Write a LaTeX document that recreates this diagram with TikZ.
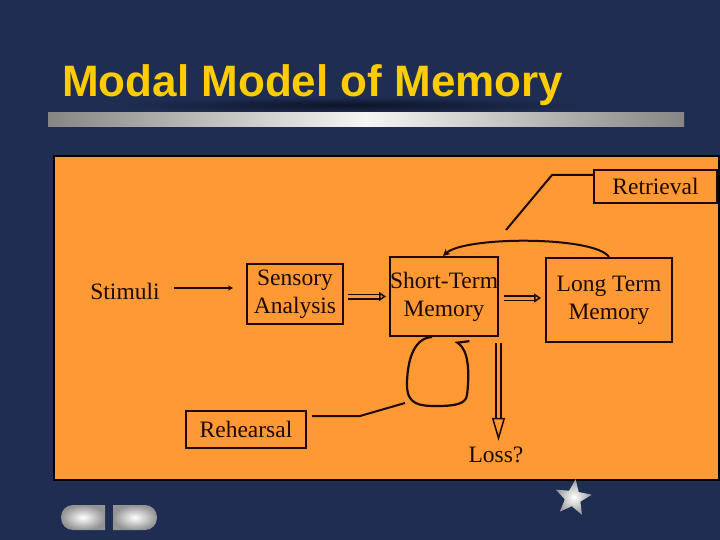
\documentclass[tikz,border=0pt]{standalone}
\usepackage{fontspec}
\setmainfont{Liberation Serif}
\newfontfamily\titlefont{Liberation Sans}
\usetikzlibrary{arrows.meta,shapes.geometric,calc}
\definecolor{navy}{RGB}{31,45,82}
\definecolor{navydark}{RGB}{14,20,38}
\definecolor{panel}{RGB}{255,153,51}
\definecolor{titleyellow}{RGB}{255,204,0}
\definecolor{ink}{RGB}{30,8,8}
\begin{document}
\begin{tikzpicture}[x=1pt,y=-1pt,
  box/.style={draw=ink, line width=2pt, inner sep=0pt, align=center, font=\fontsize{23.5}{28}\selectfont, text=ink},
  lbl/.style={inner sep=0pt, align=center, font=\fontsize{23.5}{28}\selectfont, text=ink},
  conn/.style={draw=ink, line width=2pt},
  dbl/.style={draw=ink, double=panel, double distance=3pt, line width=1.5pt},
  btn/.style={inner color=white, outer color=gray!85},
]
\useasboundingbox (0,0) rectangle (720,540);
\fill[navy] (0,0) rectangle (720,540);
% title shadow
\shade[inner color=navydark, outer color=navy] (350,105) ellipse (235 and 8);
\node[anchor=base west, inner sep=0pt, text=titleyellow, font=\titlefont\bfseries\fontsize{44}{48}\selectfont] (title) at (62,97) {Modal Model of Memory};
% grey bar
\shade[left color=gray!95, right color=gray!95, middle color=white!92!gray] (48,113) rectangle (684,127);
% panel
\draw[line width=2.2pt, draw=black, fill=panel] (54,156) rectangle (719,480);
% nodes
\node[lbl] (stimuli) at (125,291) {Stimuli};
\node[box, minimum width=96pt, minimum height=60pt] (sensory) at (295,294) {Sensory\\Analysis};
\node[box, minimum width=108pt, minimum height=79pt] (stm) at (444,296.5) {Short-Term\\Memory};
\node[box, minimum width=126pt, minimum height=84pt] (ltm) at (609,300) {Long Term\\Memory};
\node[box, minimum width=123pt, minimum height=33pt] (retrieval) at (655.5,186.5) {Retrieval};
\node[box, minimum width=120pt, minimum height=37pt] (rehearsal) at (246,429.5) {Rehearsal};
\node[lbl] (loss) at (496,455) {Loss?};
% connectors
\draw[conn, line width=1.6pt, -{Stealth[length=5pt,width=5pt]}, shorten <=14pt, shorten >=13pt]
  ([yshift=3pt]stimuli.east) -- ([yshift=6pt]sensory.west);
\draw[dbl, -{Triangle[length=7pt,width=9pt,fill=panel]}, shorten <=4pt, shorten >=3pt]
  (sensory.east |- stm.west) -- (stm.west);
\draw[dbl, -{Triangle[length=7pt,width=9pt,fill=panel]}, shorten <=5pt, shorten >=4pt]
  ([yshift=-1.5pt]stm.east) -- ([yshift=-1.5pt]stm.east -| ltm.west);
% retrieval arc and label line
\draw[conn, -{Stealth[length=7pt,width=7pt]}] (ltm.north) .. controls (595,236) and (465,236) .. ([xshift=-1pt]stm.north);
\coordinate (rtip) at (506,230);
\coordinate (rbend) at (552,175);
\draw[conn] ([yshift=11.5pt]retrieval.west) -- (rbend) -- (rtip);
% rehearsal loop
\draw[conn, line width=2.2pt, -{Straight Barb[harpoon,swap,length=9pt,width=16pt]}]
  ([xshift=-12pt]stm.south) .. controls (412,338) and (407,365) .. (407,385)
  .. controls (407,405) and (420,406) .. (437,406)
  .. controls (455,406) and (466,404) .. (467,395)
  .. controls (470,370) and (468,350) .. ([xshift=11pt,yshift=-4pt]stm.south);
\coordinate (rloop) at (405,403);
\coordinate (rbend2) at (360,416);
\draw[conn] ([xshift=5pt,yshift=13.5pt]rehearsal.east) -- (rbend2) -- (rloop);
% loss arrow
\draw[dbl, double distance=3.5pt, -{Triangle[length=23pt,width=13pt,fill=panel]}, shorten >=12pt]
  ([xshift=-0.5pt,yshift=-6pt]stm.south east) -- ([xshift=-0.5pt,yshift=-6pt]stm.south east |- loss.north);
% star
\node[star, star points=5, star point ratio=2.3, minimum size=38pt, inner sep=0pt, inner color=white, outer color=gray!80, shade, rotate=-8] (star) at (573,498) {};
% buttons
\shade[btn] (105,505) [rounded corners=12pt] -- (61,505) -- (61,530) [sharp corners] -- (105,530) -- cycle;
\shade[btn] (113,505) [rounded corners=12pt] -- (157,505) -- (157,530) [sharp corners] -- (113,530) -- cycle;
\end{tikzpicture}
\end{document}
